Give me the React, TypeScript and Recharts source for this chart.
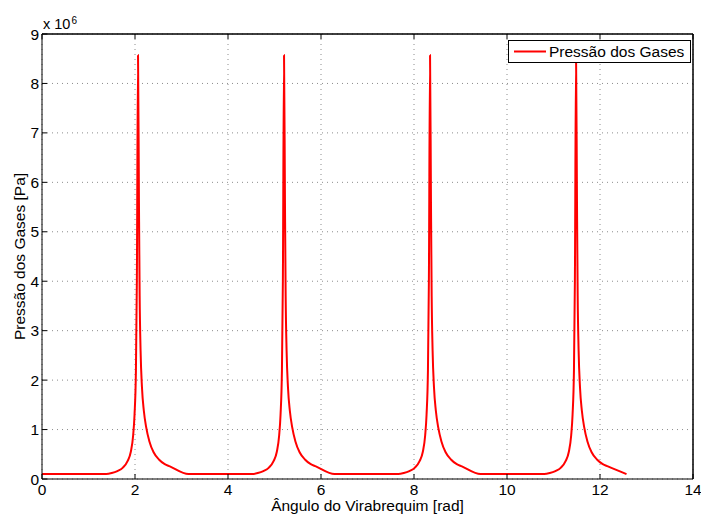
import React from 'react';
import { LineChart, Line, XAxis, YAxis, CartesianGrid, Legend, ReferenceLine } from 'recharts';

const FONT = '"Liberation Sans", Arial, Helvetica, sans-serif';
const FS = 15.5;

// ângulo do virabrequim [rad], um bloco por ciclo
const angulo = [
  0, 1.38, 1.5, 1.62, 1.74, 1.84, 1.91, 1.96, 1.99, 2.02, 2.04, 2.065, 2.085, 2.1, 2.12, 2.15, 2.19, 2.24, 2.31, 2.4, 2.52, 2.64, 2.75, 3.15,
  4.52, 4.64, 4.76, 4.88, 4.98, 5.05, 5.1, 5.13, 5.16, 5.18, 5.205, 5.225, 5.24, 5.26, 5.29, 5.33, 5.38, 5.45, 5.54, 5.66, 5.78, 5.89, 6.29,
  7.66, 7.78, 7.9, 8.02, 8.12, 8.19, 8.24, 8.27, 8.3, 8.32, 8.345, 8.365, 8.38, 8.4, 8.43, 8.47, 8.52, 8.59, 8.68, 8.8, 8.92, 9.03, 9.43,
  10.8, 10.92, 11.04, 11.16, 11.26, 11.33, 11.38, 11.41, 11.44, 11.46, 11.485, 11.505, 11.52, 11.54, 11.57, 11.61, 11.66, 11.73, 11.82, 11.94, 12.06, 12.17, 12.57,
];

// pressão dos gases [x 10^6 Pa]
const pressao = [
  0.1, 0.1, 0.12, 0.16, 0.23, 0.36, 0.55, 0.88, 1.3, 2.2, 4.0, 8.57, 5.6, 3.7, 2.6, 1.85, 1.38, 1.05, 0.76, 0.54, 0.39, 0.3, 0.255, 0.1,
  0.1, 0.12, 0.16, 0.23, 0.36, 0.55, 0.88, 1.3, 2.2, 4.0, 8.57, 5.6, 3.7, 2.6, 1.85, 1.38, 1.05, 0.76, 0.54, 0.39, 0.3, 0.255, 0.1,
  0.1, 0.12, 0.16, 0.23, 0.36, 0.55, 0.88, 1.3, 2.2, 4.0, 8.57, 5.6, 3.7, 2.6, 1.85, 1.38, 1.05, 0.76, 0.54, 0.39, 0.3, 0.255, 0.1,
  0.1, 0.12, 0.16, 0.23, 0.36, 0.55, 0.88, 1.3, 2.2, 4.0, 8.57, 5.6, 3.7, 2.6, 1.85, 1.38, 1.05, 0.76, 0.54, 0.39, 0.3, 0.255, 0.1,
];

const xTicks = [0, 2, 4, 6, 8, 10, 12, 14];
const yTicks = [0, 1, 2, 3, 4, 5, 6, 7, 8, 9];

const data = angulo.map((a, i) => ({ angulo: a, pressao: pressao[i] }));

const tickStyle = { fill: '#000', fontSize: FS, fontFamily: FONT };
const noTick = () => <g />;

const LegendBox = () => (
  <div
    style={{
      boxSizing: 'border-box',
      width: 183,
      height: 23,
      border: '1px solid #000',
      background: '#fff',
      display: 'flex',
      alignItems: 'center',
      fontFamily: FONT,
      fontSize: FS,
      color: '#000',
      whiteSpace: 'nowrap',
    }}
  >
    <svg width={40} height={21} style={{ flex: 'none' }}>
      <line x1={5} x2={37} y1={10.5} y2={10.5} stroke="#ff0000" strokeWidth={2} />
    </svg>
    <span>Pressão dos Gases</span>
  </div>
);

const TituloY = (props: any) => {
  const vb = props.viewBox;
  const cy = vb.y + vb.height / 2;
  return (
    <text
      x={25}
      y={cy}
      transform={`rotate(-90 25 ${cy})`}
      textAnchor="middle"
      fontSize={FS}
      fontFamily={FONT}
      fill="#000"
    >
      Pressão dos Gases [Pa]
    </text>
  );
};

const TituloX = (props: any) => {
  const vb = props.viewBox;
  return (
    <text x={vb.x + vb.width / 2} y={511} textAnchor="middle" fontSize={FS} fontFamily={FONT} fill="#000">
      Ângulo do Virabrequim [rad]
    </text>
  );
};

export default function App() {
  return (
    <div style={{ position: 'absolute', left: 0, top: 0, width: 701, height: 517, background: '#fff' }}>
      <LineChart
        width={701}
        height={517}
        data={data}
        margin={{ top: 33, right: 7, bottom: 0, left: 0 }}
        style={{ fontFamily: FONT }}
      >
        <CartesianGrid stroke="#8c8c8c" strokeDasharray="1 4" horizontalValues={yTicks} verticalValues={xTicks} />
        <XAxis
          dataKey="angulo"
          type="number"
          domain={[0, 14]}
          ticks={xTicks}
          height={38}
          tickSize={-5}
          tickMargin={10}
          tick={tickStyle}
          axisLine={{ stroke: '#000' }}
          tickLine={{ stroke: '#000' }}
          label={{ content: TituloX }}
        />
        <XAxis
          xAxisId="topo"
          orientation="top"
          dataKey="angulo"
          type="number"
          domain={[0, 14]}
          ticks={xTicks}
          height={1}
          tickSize={-5}
          tick={noTick}
          axisLine={{ stroke: '#000' }}
          tickLine={{ stroke: '#000' }}
        />
        <YAxis
          type="number"
          domain={[0, 9]}
          ticks={yTicks}
          width={42}
          tickSize={-5}
          tickMargin={8}
          tick={tickStyle}
          axisLine={{ stroke: '#000' }}
          tickLine={{ stroke: '#000' }}
          label={{ content: TituloY }}
        />
        <YAxis
          yAxisId="dir"
          orientation="right"
          type="number"
          domain={[0, 9]}
          ticks={yTicks}
          width={1}
          tickSize={-5}
          tick={noTick}
          axisLine={{ stroke: '#000' }}
          tickLine={{ stroke: '#000' }}
        />
        {/* moldura superior e direita dos eixos */}
        <ReferenceLine y={9} stroke="#000" strokeWidth={1} />
        <ReferenceLine x={14} stroke="#000" strokeWidth={1} />
        <Legend
          layout="horizontal"
          verticalAlign="middle"
          align="center"
          content={LegendBox}
          wrapperStyle={{ position: 'absolute', left: 508, top: 40, width: 183, height: 23 }}
        />
        <Line
          type="monotone"
          dataKey="pressao"
          stroke="#ff0000"
          strokeWidth={2}
          dot={false}
          activeDot={false}
          isAnimationActive={false}
        />
      </LineChart>
      <div
        style={{
          position: 'absolute',
          left: 43,
          top: 16,
          fontFamily: FONT,
          fontSize: 14.5,
          lineHeight: '16px',
          color: '#000',
          whiteSpace: 'nowrap',
        }}
      >
        x 10<sup style={{ fontSize: 10, position: 'relative', top: -3, verticalAlign: 'top', marginLeft: 1 }}>6</sup>
      </div>
    </div>
  );
}
